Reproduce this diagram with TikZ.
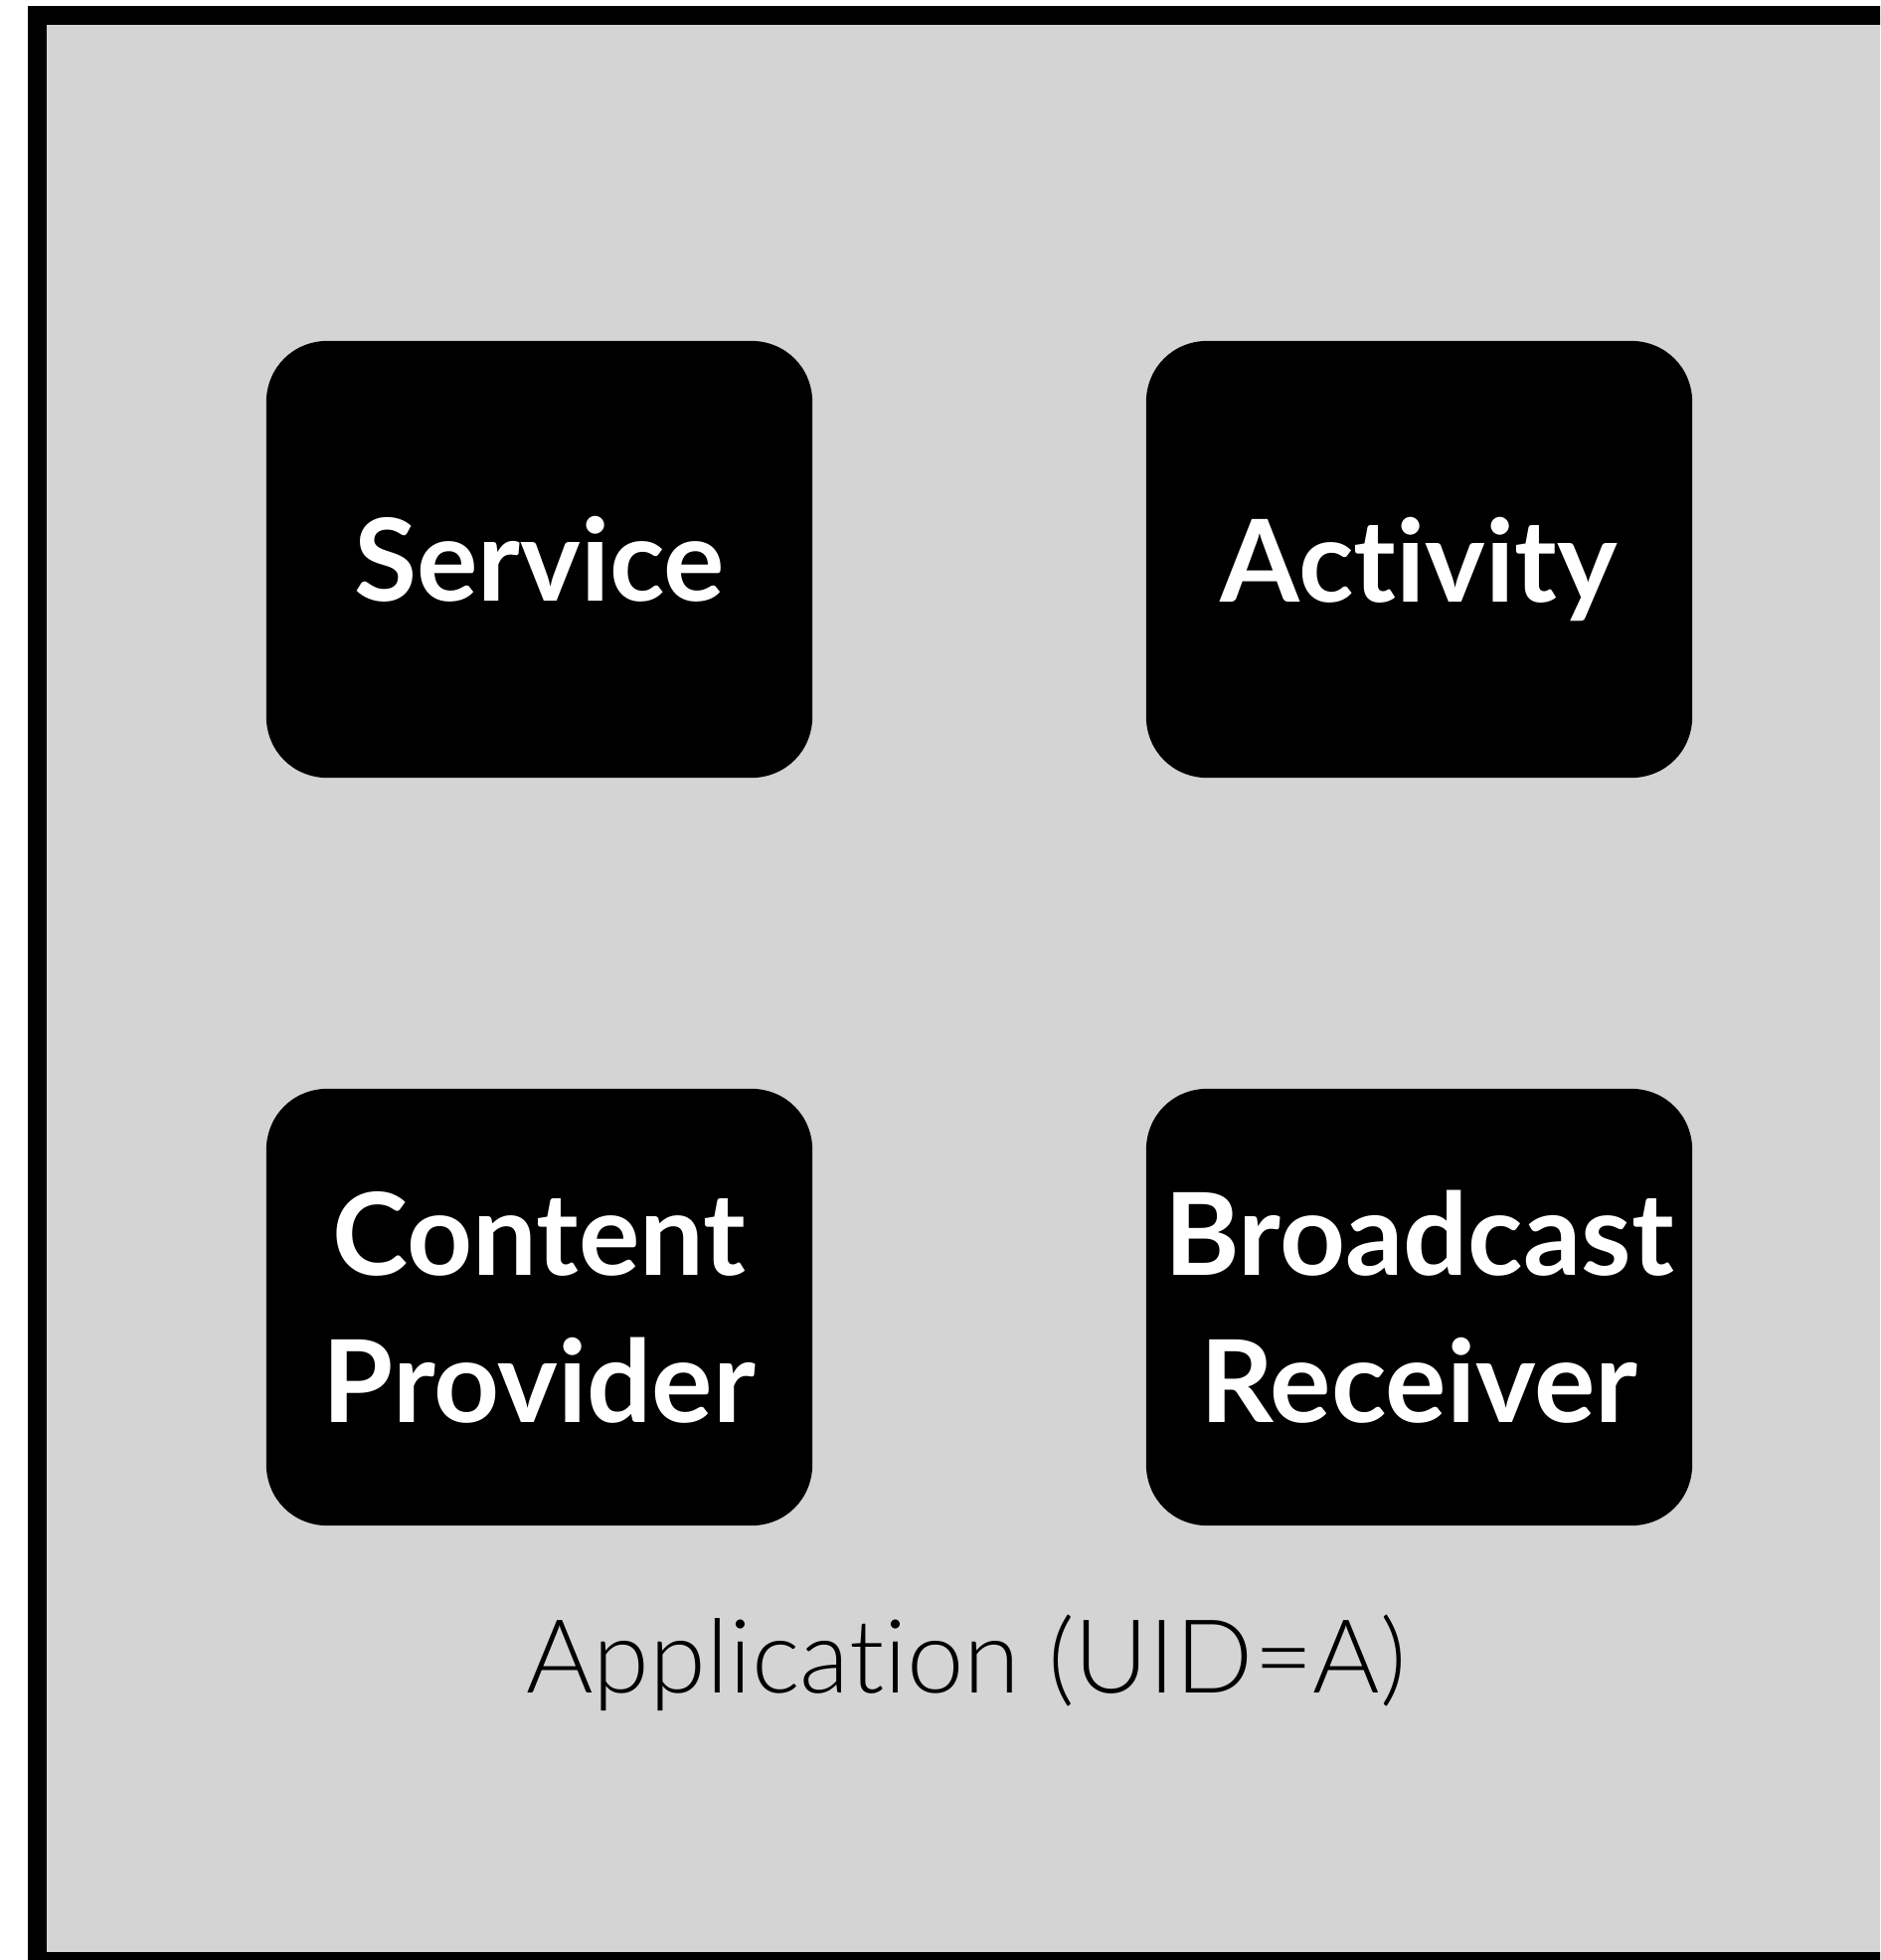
\documentclass[tikz,border=0pt]{standalone}
\usepackage{fontspec}
\setmainfont[Ligatures=NoCommon]{Lato}
\newfontfamily\lightfont[Ligatures=NoCommon]{Lato Light}
\usetikzlibrary{backgrounds}
\definecolor{appbg}{RGB}{212,212,212}
\newcommand\compshape[1]{%
  \fill[black] ([shift={(0,62)}]#1.north west) .. controls ([shift={(0,27)}]#1.north west) and ([shift={(27,0)}]#1.north west) .. ([shift={(62,0)}]#1.north west)
   -- ([shift={(-62,0)}]#1.north east) .. controls ([shift={(-27,0)}]#1.north east) and ([shift={(0,27)}]#1.north east) .. ([shift={(0,62)}]#1.north east)
   -- ([shift={(0,-62)}]#1.south east) .. controls ([shift={(0,-27)}]#1.south east) and ([shift={(-27,0)}]#1.south east) .. ([shift={(-62,0)}]#1.south east)
   -- ([shift={(62,0)}]#1.south west) .. controls ([shift={(27,0)}]#1.south west) and ([shift={(0,-27)}]#1.south west) .. ([shift={(0,-62)}]#1.south west) -- cycle;}
\begin{document}
\begin{tikzpicture}[x=1pt,y=-1pt,
  comp/.style={text=white,
    minimum width=549pt, minimum height=439pt, inner sep=0pt,
    align=center, font=\bfseries\fontsize{115}{148}\selectfont},
  applabel/.style={anchor=base, inner sep=0pt, font=\lightfont\fontsize{103}{120}\selectfont}]
\useasboundingbox (0,0) rectangle (1891,1971);
\node[comp] (service) at (542.5,562.5) {Service};
\node[comp, text depth=0pt] (activity) at (1427.5,562.5) {Activity};
\node[comp] (provider) at (542.5,1314.5) {Content\\Provider};
\node[comp] (receiver) at (1427.5,1314.5) {Broadcast\\Receiver};
\node[applabel] (app) at (972,1702) {Application (UID=A)};
\begin{scope}[on background layer]
  \begin{scope}
    \clip (0,0) rectangle (1891,1971);
    \fill[appbg] (37,15) rectangle (1950,1990);
    \draw[line width=18.7pt] (37.3,15.3) rectangle (1950,1972.3);
  \end{scope}
  \compshape{service}
  \compshape{activity}
  \compshape{provider}
  \compshape{receiver}
\end{scope}
\end{tikzpicture}
\end{document}
